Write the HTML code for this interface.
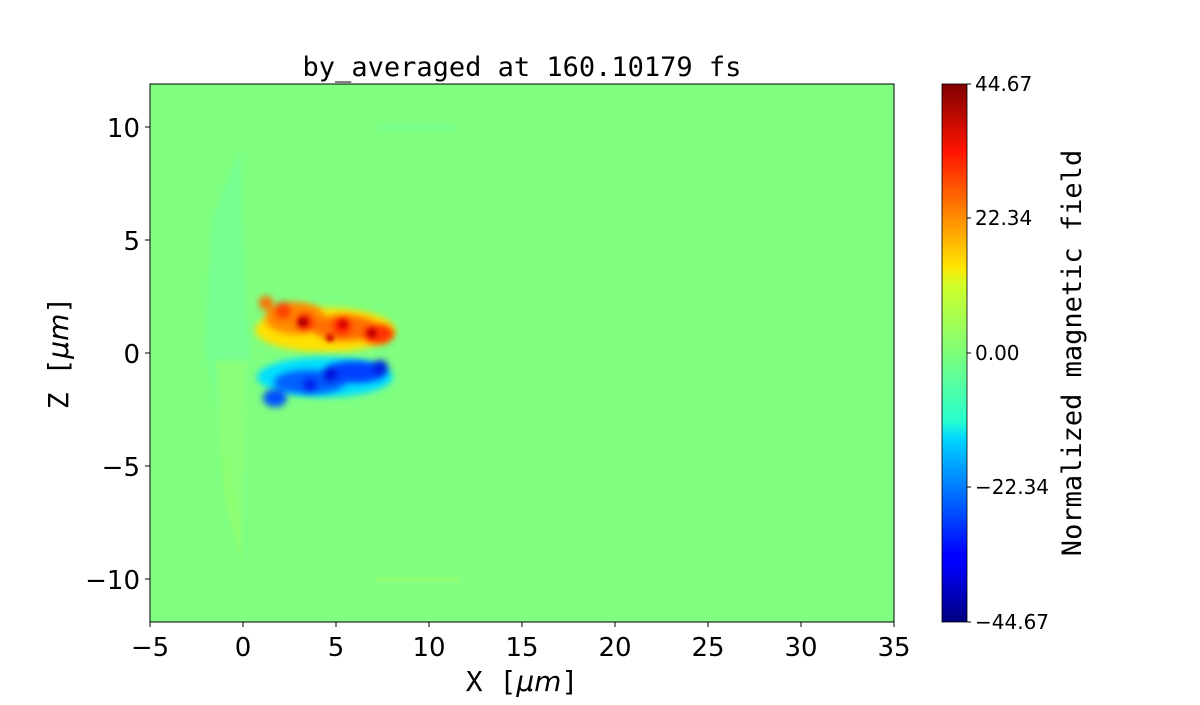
<!DOCTYPE html>
<html><head><style>
body{margin:0;background:#fff;width:1200px;height:700px;overflow:hidden}
</style></head><body>
<svg width="1200" height="700" xmlns="http://www.w3.org/2000/svg">
<defs>
<filter id="b4" x="-50%" y="-50%" width="200%" height="200%"><feGaussianBlur stdDeviation="3.5"/></filter>
<filter id="b2" x="-50%" y="-50%" width="200%" height="200%"><feGaussianBlur stdDeviation="2.5"/></filter>
<linearGradient id="jet" x1="0" y1="1" x2="0" y2="0">
<stop offset="0" stop-color="#00007f"/><stop offset="0.11" stop-color="#0000ff"/>
<stop offset="0.125" stop-color="#0000ff"/><stop offset="0.34" stop-color="#00d4ff"/>
<stop offset="0.375" stop-color="#29ffce"/><stop offset="0.5" stop-color="#7dff7a"/>
<stop offset="0.625" stop-color="#ceff29"/><stop offset="0.66" stop-color="#ffe500"/>
<stop offset="0.875" stop-color="#ff1400"/><stop offset="1" stop-color="#7f0000"/>
</linearGradient>
<clipPath id="ax"><rect x="150" y="84" width="744" height="538"/></clipPath>
</defs>
<rect x="150" y="84" width="744" height="538" fill="#80ff80"/>
<g clip-path="url(#ax)">
<path d="M240,150 L245,300 L250,350 L245,420 L244,560 L236,500 L220,420 L205,350 L212,220 Z" fill="#6dffa0" opacity="0.5" filter="url(#b2)"/>
<path d="M215,360 L248,360 L245,460 L242,565 L225,500 Z" fill="#a0ff60" opacity="0.45" filter="url(#b2)"/>
<rect x="380" y="126" width="75" height="3" fill="#70ffa0" filter="url(#b2)"/>
<rect x="375" y="578" width="85" height="3" fill="#a0ff60" filter="url(#b2)"/>
<!-- halo -->
<ellipse cx="325" cy="330" rx="70" ry="22" fill="#ffe000" filter="url(#b4)"/>
<ellipse cx="325" cy="377" rx="68" ry="20" fill="#00e0ff" filter="url(#b4)"/>
<!-- red blob -->
<g filter="url(#b4)">
<ellipse cx="295" cy="318" rx="30" ry="16" fill="#ff8a00"/>
<ellipse cx="345" cy="328" rx="33" ry="13" fill="#ff7000"/>
<ellipse cx="378" cy="334" rx="16" ry="10" fill="#ff3000"/>
<circle cx="266" cy="303" r="7" fill="#ff7000"/>
<circle cx="283" cy="311" r="9" fill="#ff4000"/>
<circle cx="305" cy="322" r="10" fill="#ff3000"/>
<circle cx="342" cy="326" r="10" fill="#ff2000"/>
</g>
<g filter="url(#b2)">
<circle cx="303" cy="322" r="5" fill="#b00000"/>
<circle cx="330" cy="338" r="4" fill="#d00000"/>
<circle cx="343" cy="324" r="4" fill="#d00000"/>
<circle cx="372" cy="333" r="5" fill="#c00000"/>
</g>
<!-- blue blob -->
<g filter="url(#b4)">
<ellipse cx="310" cy="382" rx="36" ry="12" fill="#0060ff"/>
<ellipse cx="355" cy="372" rx="32" ry="11" fill="#0040ff"/>
<ellipse cx="275" cy="398" rx="12" ry="9" fill="#0050ff"/>
<circle cx="310" cy="385" r="8" fill="#0020f0"/>
<circle cx="330" cy="375" r="8" fill="#0010e0"/>
<circle cx="380" cy="368" r="8" fill="#0020e0"/>
</g>
</g>
<rect x="150" y="84" width="744" height="538" fill="none" stroke="#000" stroke-width="1"/>
<rect x="942" y="84" width="25" height="538" fill="url(#jet)" stroke="#000" stroke-width="0.8"/>
<g font-family="DejaVu Sans, sans-serif" fill="#000">
<text x="522" y="76" text-anchor="middle" font-family="DejaVu Sans Mono, monospace" font-size="27">by_averaged at 160.10179 fs</text>
<g font-size="26" text-anchor="middle">
<text x="150" y="656">−5</text><text x="243" y="656">0</text><text x="336" y="656">5</text><text x="429" y="656">10</text>
<text x="522" y="656">15</text><text x="615" y="656">20</text><text x="708" y="656">25</text><text x="801" y="656">30</text><text x="894" y="656">35</text>
</g>
<g stroke="#000"><line x1="150" y1="622" x2="150" y2="627"/><line x1="243" y1="622" x2="243" y2="627"/><line x1="336" y1="622" x2="336" y2="627"/><line x1="429" y1="622" x2="429" y2="627"/><line x1="522" y1="622" x2="522" y2="627"/><line x1="615" y1="622" x2="615" y2="627"/><line x1="708" y1="622" x2="708" y2="627"/><line x1="801" y1="622" x2="801" y2="627"/><line x1="894" y1="622" x2="894" y2="627"/>
<line x1="145" y1="127" x2="150" y2="127"/><line x1="145" y1="240" x2="150" y2="240"/><line x1="145" y1="353" x2="150" y2="353"/><line x1="145" y1="466" x2="150" y2="466"/><line x1="145" y1="579" x2="150" y2="579"/>
<line x1="967" y1="84" x2="971" y2="84"/><line x1="967" y1="218" x2="971" y2="218"/><line x1="967" y1="353" x2="971" y2="353"/><line x1="967" y1="487" x2="971" y2="487"/><line x1="967" y1="622" x2="971" y2="622"/></g>
<g font-size="26" text-anchor="end">
<text x="140" y="137">10</text><text x="140" y="250">5</text><text x="140" y="363">0</text><text x="140" y="476">−5</text><text x="140" y="589">−10</text>
</g>
<g font-size="20">
<text x="975" y="91">44.67</text><text x="975" y="225">22.34</text><text x="975" y="360">0.00</text><text x="975" y="494">−22.34</text><text x="975" y="629">−44.67</text>
</g>
<text x="522" y="691" text-anchor="middle" font-family="DejaVu Sans Mono, monospace" font-size="28">X [<tspan font-family="DejaVu Sans, sans-serif" font-style="italic">μm</tspan>]</text>
<text transform="translate(68,353) rotate(-90)" text-anchor="middle" font-family="DejaVu Sans Mono, monospace" font-size="28">Z [<tspan font-family="DejaVu Sans, sans-serif" font-style="italic">μm</tspan>]</text>
<text transform="translate(1081,353) rotate(-90)" text-anchor="middle" font-family="DejaVu Sans Mono, monospace" font-size="27">Normalized magnetic field</text>
</g>
</svg>
</body></html>
